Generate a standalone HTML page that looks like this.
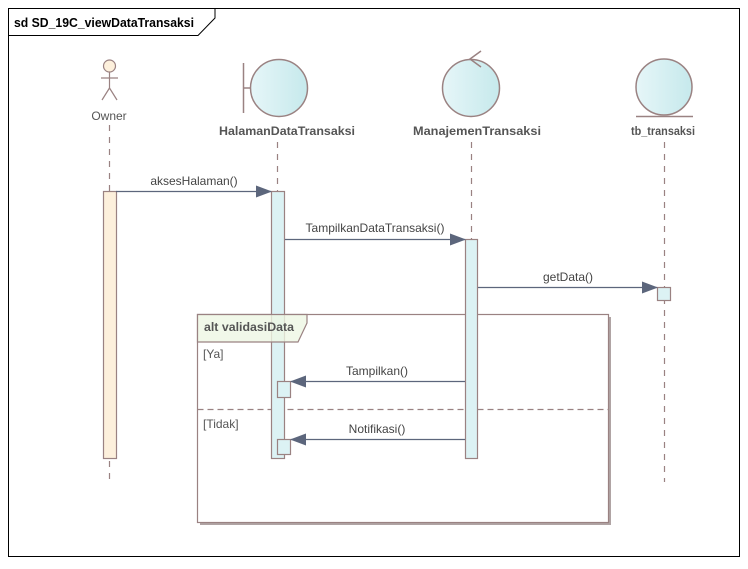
<!DOCTYPE html>
<html><head><meta charset="utf-8"><style>
html,body{margin:0;padding:0;background:#fff;}
svg text{font-family:"Liberation Sans",sans-serif;}
</style></head><body>
<svg width="748" height="564" viewBox="0 0 748 564" xmlns="http://www.w3.org/2000/svg">
<defs>
<linearGradient id="g" x1="0" x2="1" y1="0" y2="0"><stop offset="0" stop-color="#e6f6f8"/><stop offset="1" stop-color="#c6e9ec"/></linearGradient>
<marker id="a" markerWidth="16" markerHeight="12" refX="15" refY="6" orient="auto" markerUnits="userSpaceOnUse"><path d="M0,0 L16,6 L0,12 Z" fill="#5c667c"/></marker>
</defs>
<rect x="0" y="0" width="748" height="564" fill="#fff"/>
<rect x="8.5" y="8.5" width="731" height="548" fill="none" stroke="#000" stroke-width="1"/>
<path d="M8.5,35.5 H198 L215,18 V8.5" fill="none" stroke="#000"/>
<text x="14" y="27" font-size="13" font-weight="bold" fill="#000" textLength="180" lengthAdjust="spacingAndGlyphs">sd SD_19C_viewDataTransaksi</text>

<g stroke="#9a8282" stroke-dasharray="6,6" stroke-width="1.2">
<line x1="109.5" y1="125" x2="109.5" y2="482"/>
<line x1="277.5" y1="142" x2="277.5" y2="482"/>
<line x1="471.5" y1="142" x2="471.5" y2="482"/>
<line x1="664.5" y1="142" x2="664.5" y2="482"/>
</g>

<g stroke="#9a8282" stroke-width="1.2" fill="none">
<circle cx="109.5" cy="66" r="6" fill="#fdf0dc"/>
<line x1="109.5" y1="72" x2="109.5" y2="88"/>
<line x1="101" y1="78" x2="118" y2="78"/>
<line x1="109.5" y1="88" x2="102" y2="100"/>
<line x1="109.5" y1="88" x2="117" y2="100"/>
</g>
<text x="109" y="120" font-size="12" fill="#555" text-anchor="middle">Owner</text>

<g stroke="#9a8282" stroke-width="1.5">
<line x1="243.5" y1="63" x2="243.5" y2="113"/>
<line x1="243.5" y1="88" x2="250" y2="88"/>
<circle cx="279" cy="88" r="28.5" fill="url(#g)"/>
</g>
<text x="287" y="135" font-size="12" font-weight="bold" fill="#555" text-anchor="middle" textLength="136" lengthAdjust="spacingAndGlyphs">HalamanDataTransaksi</text>

<g stroke="#9a8282" stroke-width="1.5" fill="none">
<circle cx="471" cy="88" r="28.5" fill="url(#g)"/>
<path d="M481,51 L470,59 L481,67"/>
</g>
<text x="477" y="135" font-size="12" font-weight="bold" fill="#555" text-anchor="middle" textLength="128" lengthAdjust="spacingAndGlyphs">ManajemenTransaksi</text>

<g stroke="#9a8282" stroke-width="1.5">
<circle cx="664" cy="87" r="28" fill="url(#g)"/>
<line x1="636" y1="116.5" x2="693" y2="116.5"/>
</g>
<text x="663" y="135" font-size="12" font-weight="bold" fill="#555" text-anchor="middle" textLength="64" lengthAdjust="spacingAndGlyphs">tb_transaksi</text>

<rect x="200" y="317" width="411" height="208" fill="#b0a4a4"/>
<rect x="197.5" y="314.5" width="411" height="208" fill="#fff" stroke="#9a8282" stroke-width="1.2"/>
<text x="203" y="358" font-size="12" fill="#555">[Ya]</text>
<text x="203" y="428" font-size="12" fill="#555">[Tidak]</text>
<line x1="197.5" y1="409.5" x2="608.5" y2="409.5" stroke="#9a8282" stroke-dasharray="6,4" stroke-width="1.2"/>

<g stroke="#9a8282" stroke-width="1.2">
<rect x="103.5" y="191.5" width="13" height="267" fill="#fdf0dc"/>
<rect x="271.5" y="191.5" width="13" height="267" fill="#dcf2f4"/>
<rect x="465.5" y="239.5" width="12" height="219" fill="#dcf2f4"/>
<rect x="657.5" y="287.5" width="13" height="13" fill="#dcf2f4"/>
<rect x="277.5" y="381.5" width="13" height="16" fill="#dcf2f4"/>
<rect x="277.5" y="439.5" width="13" height="15" fill="#dcf2f4"/>
</g>

<path d="M197.5,314.5 H307 V323 L298,342 H197.5 Z" fill="#eef6e4" fill-opacity="0.8" stroke="#9a8282" stroke-width="1.2"/>
<text x="204" y="331" font-size="12" font-weight="bold" fill="#555" textLength="90" lengthAdjust="spacingAndGlyphs">alt validasiData</text>

<g stroke="#5c667c" stroke-width="1.2" marker-end="url(#a)">
<line x1="116" y1="191.5" x2="271" y2="191.5"/>
<line x1="285" y1="239.5" x2="465" y2="239.5"/>
<line x1="478" y1="287.5" x2="657" y2="287.5"/>
<line x1="465" y1="381.5" x2="291" y2="381.5"/>
<line x1="465" y1="439.5" x2="291" y2="439.5"/>
</g>
<g font-size="12" fill="#444" text-anchor="middle">
<text x="194" y="185">aksesHalaman()</text>
<text x="375" y="232">TampilkanDataTransaksi()</text>
<text x="568" y="281">getData()</text>
<text x="377" y="375">Tampilkan()</text>
<text x="377" y="433">Notifikasi()</text>
</g>
</svg>
</body></html>
